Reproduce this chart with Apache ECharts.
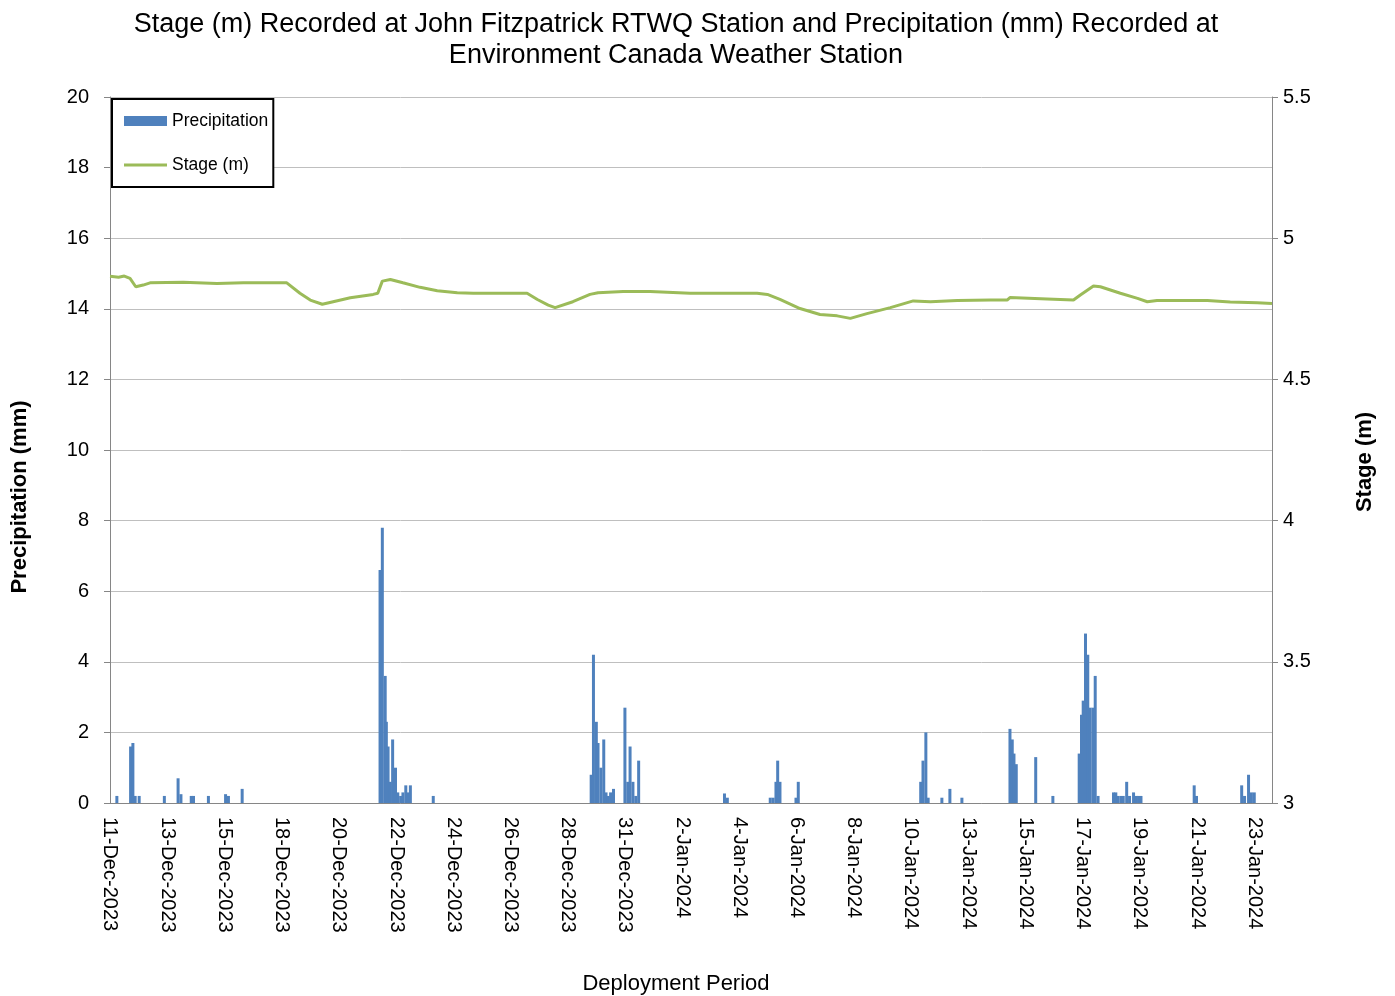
<!DOCTYPE html>
<html><head><meta charset="utf-8">
<script src="https://cdn.jsdelivr.net/npm/echarts@6/dist/echarts.min.js"></script>
<style>html,body{margin:0;padding:0;background:#fff}#c{width:1395px;height:996px}</style>
</head><body><div id="c"></div>
<script>
// Tick labels of the deployment-period axis (evenly spaced category labels)
const xTickLabels = ['11-Dec-2023','13-Dec-2023','15-Dec-2023','18-Dec-2023','20-Dec-2023','22-Dec-2023','24-Dec-2023','26-Dec-2023','28-Dec-2023','31-Dec-2023','2-Jan-2024','4-Jan-2024','6-Jan-2024','8-Jan-2024','10-Jan-2024','13-Jan-2024','15-Jan-2024','17-Jan-2024','19-Jan-2024','21-Jan-2024','23-Jan-2024'];
const xAxisEnd = 20.31; // axis extent in tick-label steps

// Precipitation (mm): position along axis (tick-label steps) and amount
const precipPos = [0.12,0.36,0.40,0.44,0.51,0.95,1.19,1.24,1.42,1.46,1.72,2.02,2.07,2.31,
  4.72,4.76,4.81,4.83,4.86,4.90,4.94,4.99,5.03,5.08,5.12,5.17,5.21,5.25,5.65,
  8.41,8.45,8.50,8.53,8.58,8.63,8.67,8.71,8.75,8.80,
  9.00,9.05,9.09,9.14,9.19,9.24,
  10.74,10.79,11.54,11.59,11.64,11.67,11.71,11.99,12.03,
  14.17,14.21,14.26,14.30,14.54,14.68,14.89,
  15.73,15.77,15.80,15.84,16.18,16.48,
  16.94,16.98,17.01,17.05,17.09,17.13,17.18,17.22,17.27,
  17.54,17.58,17.62,17.67,17.71,17.77,17.82,17.89,17.94,17.98,18.02,
  18.95,18.99,19.78,19.83,19.90,19.95,20.00];
const precipMm = [0.2,1.6,1.7,0.2,0.2,0.2,0.7,0.25,0.2,0.2,0.2,0.25,0.2,0.4,
  6.6,7.8,3.6,2.3,1.6,0.6,1.8,1.0,0.3,0.2,0.3,0.5,0.3,0.5,0.2,
  0.8,4.2,2.3,1.7,1.0,1.8,0.3,0.2,0.3,0.4,
  2.7,0.6,1.6,0.6,0.2,1.2,
  0.27,0.15,0.15,0.15,0.6,1.2,0.6,0.15,0.6,
  0.6,1.2,2.0,0.15,0.15,0.4,0.15,
  2.1,1.8,1.4,1.1,1.3,0.2,
  1.4,2.5,2.9,4.8,4.2,2.7,2.7,3.6,0.2,
  0.3,0.3,0.2,0.2,0.2,0.6,0.2,0.3,0.2,0.2,0.2,
  0.5,0.2,0.5,0.2,0.8,0.3,0.3];

// Stage (m): position along axis and level
const stagePos = [0,0.15,0.25,0.35,0.45,0.58,0.70,1.28,1.87,2.33,3.09,3.32,3.50,3.71,3.90,4.20,4.60,4.68,4.76,4.90,5.12,5.42,5.72,6.07,6.35,7.29,7.47,7.66,7.78,8.09,8.39,8.53,8.97,9.44,10.14,11.31,11.49,11.71,12.06,12.41,12.71,12.94,13.23,13.64,14.04,14.34,14.81,15.39,15.68,15.73,16.38,16.84,16.96,17.19,17.31,17.66,17.96,18.13,18.30,19.18,19.58,20.05,20.31];
const stageM = [4.865,4.862,4.866,4.858,4.828,4.834,4.842,4.844,4.840,4.842,4.842,4.805,4.781,4.766,4.775,4.789,4.801,4.805,4.848,4.854,4.842,4.826,4.814,4.807,4.805,4.805,4.783,4.763,4.754,4.775,4.801,4.807,4.811,4.811,4.805,4.805,4.801,4.783,4.751,4.730,4.725,4.716,4.733,4.754,4.778,4.775,4.779,4.781,4.781,4.790,4.785,4.781,4.799,4.831,4.828,4.805,4.787,4.775,4.779,4.779,4.774,4.771,4.769];

const titleLines = ['Stage (m) Recorded at John Fitzpatrick RTWQ Station and Precipitation (mm) Recorded at', 'Environment Canada Weather Station'];
const FONT = '"Liberation Sans", Arial, sans-serif';

const chart = echarts.init(document.getElementById('c'), null, {renderer: 'canvas'});
const option = {
  animation: false,
  backgroundColor: '#fff',
  title: {
    text: titleLines.join('\n'), left: 676, top: 9, textAlign: 'center', padding: 0,
    textStyle: {fontSize: 27, fontWeight: 'normal', color: '#000', fontFamily: FONT, lineHeight: 31}
  },
  legend: {
    orient: 'vertical', left: 112, top: 99, padding: [13, 5, 13, 12], itemGap: 26,
    itemWidth: 43, itemHeight: 10, borderColor: '#000', borderWidth: 2, backgroundColor: '#fff',
    symbolKeepAspect: true,
    textStyle: {fontSize: 17.5, color: '#000', fontFamily: FONT},
    data: [
      {name: 'Precipitation', icon: 'rect'},
      {name: 'Stage (m)', icon: 'path://M0,0h46v3h-46z'}
    ]
  },
  grid: {left: 110, right: 123, top: 97, bottom: 193, containLabel: false, outerBoundsMode: 'none'},
  xAxis: {
    type: 'value', min: 0, max: xAxisEnd, interval: 1,
    axisLine: {show: true, onZero: false, lineStyle: {color: '#868686', width: 1}},
    axisTick: {show: false}, splitLine: {show: false},
    axisLabel: {
      rotate: -90, margin: 14, fontSize: 20, color: '#000', fontFamily: FONT,
      showMinLabel: true, showMaxLabel: true,
      formatter: function (v) { const i = Math.round(v); return (Math.abs(v - i) < 1e-6 && xTickLabels[i]) ? xTickLabels[i] : ''; }
    }
  },
  yAxis: [
    {
      type: 'value', min: 0, max: 20, interval: 2, position: 'left',
      axisLine: {show: true, lineStyle: {color: '#868686', width: 1}},
      axisTick: {show: true, length: 6, lineStyle: {color: '#868686'}},
      axisLabel: {fontSize: 20, margin: 21, color: '#000', fontFamily: FONT},
      splitLine: {show: true, lineStyle: {color: '#BFBFBF', width: 1}}
    },
    {
      type: 'value', min: 3, max: 5.5, interval: 0.5, position: 'right',
      axisLine: {show: true, lineStyle: {color: '#868686', width: 1}},
      axisTick: {show: true, length: 6, lineStyle: {color: '#868686'}},
      axisLabel: {fontSize: 20, margin: 11, color: '#000', fontFamily: FONT},
      splitLine: {show: false}
    }
  ],
  graphic: [
    {type: 'text', x: 20, y: 497, rotation: Math.PI / 2,
     style: {text: 'Precipitation (mm)', align: 'center', verticalAlign: 'middle', fontSize: 22, fontWeight: 'bold', fontFamily: FONT, fill: '#000'}},
    {type: 'text', x: 1365, y: 462, rotation: Math.PI / 2,
     style: {text: 'Stage (m)', align: 'center', verticalAlign: 'middle', fontSize: 22, fontWeight: 'bold', fontFamily: FONT, fill: '#000'}},
    {type: 'text', x: 676, y: 984,
     style: {text: 'Deployment Period', align: 'center', verticalAlign: 'middle', fontSize: 22, fontFamily: FONT, fill: '#000'}}
  ],
  series: [
    {
      name: 'Precipitation', type: 'bar', yAxisIndex: 0, barWidth: 3,
      itemStyle: {color: '#4F81BD'},
      data: precipPos.map((p, i) => [p, precipMm[i]])
    },
    {
      name: 'Stage (m)', type: 'line', yAxisIndex: 1, symbol: 'none', showSymbol: false,
      lineStyle: {width: 3, color: '#9BBB59'}, itemStyle: {color: '#9BBB59'},
      data: stagePos.map((p, i) => [p, stageM[i]])
    }
  ]
};
chart.setOption(option);
</script></body></html>
